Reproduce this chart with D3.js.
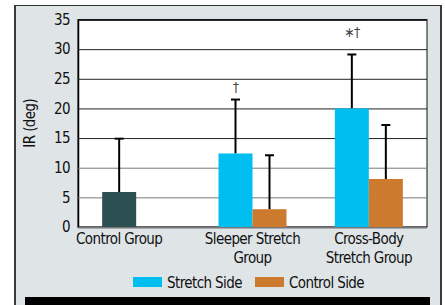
<!DOCTYPE html>
<html>
<head>
<meta charset="utf-8">
<script src="https://cdn.jsdelivr.net/npm/d3@7"></script>
<style>
  body { margin: 0; background: #fff; }
  text { font-family: "Liberation Sans Narrow", "DejaVu Sans Condensed", sans-serif; fill: #111; letter-spacing: -0.6px; }
</style>
</head>
<body>
<div id="chart"></div>
<script>
  const groups = ["Control Group", "Sleeper Stretch Group", "Cross-Body Stretch Group"];
  const groupLabels = [["Control Group"], ["Sleeper Stretch", "Group"], ["Cross-Body", "Stretch Group"]];
  const sides = ["Stretch Side", "Control Side"];
  const controlGroup = [5.9, null, null];
  const controlGroupSD = [9.0, null, null];
  const stretchSide = [null, 12.4, 20.0];
  const stretchSideSD = [null, 9.1, 9.1];
  const controlSide = [null, 3.0, 8.1];
  const controlSideSD = [null, 9.1, 9.1];
  const yTicks = [0, 5, 10, 15, 20, 25, 30, 35];
  const notes = [{ group: 1, side: "Stretch Side", text: "\u2020", at: 22.7 }, { group: 2, side: "Stretch Side", text: "\u2217\u2020", at: 32.0 }];

  const colors = { "Control Group": "#2c4f52", "Stretch Side": "#00bff0", "Control Side": "#cc7a2e" };

  const w = 445, h = 305;
  const pLeft = 78, pRight = 427, pTop = 19.5, pBottom = 227;

  const svg = d3.select("#chart").append("svg").attr("width", w).attr("height", h);

  // grey panel
  svg.append("rect").attr("x", 15).attr("y", 5).attr("width", 426).attr("height", 310).attr("fill", "#dfe4e7");
  svg.append("line").attr("x1", 15).attr("x2", 441).attr("y1", 5.5).attr("y2", 5.5).attr("stroke", "#333");
  svg.append("line").attr("x1", 15).attr("x2", 15).attr("y1", 5).attr("y2", h).attr("stroke", "#3a3a3a").attr("stroke-width", 2);
  svg.append("line").attr("x1", 441).attr("x2", 441).attr("y1", 5).attr("y2", h).attr("stroke", "#3a3a3a").attr("stroke-width", 2);
  svg.append("rect").attr("x", 25).attr("y", 297).attr("width", 405).attr("height", 10).attr("fill", "#000");

  svg.append("rect").attr("x", pLeft).attr("y", pTop).attr("width", pRight - pLeft).attr("height", pBottom - pTop)
    .attr("fill", "#fff").attr("stroke", "#111");

  const yScale = d3.scaleLinear().domain([0, 35]).range([pBottom, pTop]);
  const xScale = d3.scalePoint().domain(groups).range([pLeft, pRight]).padding(0.5);
  const sideScale = d3.scaleBand().domain(sides).range([-34, 34]);
  const bw = sideScale.bandwidth();

  const yAxis = d3.axisLeft(yScale).tickValues(yTicks).tickSize(-(pRight - pLeft)).tickPadding(8);
  const gy = svg.append("g").attr("transform", `translate(${pLeft},0)`).call(yAxis);
  gy.select(".domain").attr("stroke", "#000").attr("stroke-width", 1.5);
  gy.selectAll(".tick line").attr("stroke", (d) => d <= 10 ? "#777" : "#222");
  gy.selectAll(".tick text").attr("font-size", 15).attr("fill", "#111");

  svg.append("text").attr("transform", `translate(35,${(pTop + pBottom) / 2}) rotate(-90)`)
    .attr("text-anchor", "middle").attr("font-size", 15).text("IR (deg)");

  // control group bar sits in the first slot of its group
  const bars = [];
  groups.forEach((g, i) => {
    if (controlGroup[i] != null) bars.push({ g, key: "Control Group", v: controlGroup[i], sd: controlGroupSD[i], x0: sideScale(sides[0]) });
    if (stretchSide[i] != null) bars.push({ g, key: "Stretch Side", v: stretchSide[i], sd: stretchSideSD[i], x0: sideScale("Stretch Side") });
    if (controlSide[i] != null) bars.push({ g, key: "Control Side", v: controlSide[i], sd: controlSideSD[i], x0: sideScale("Control Side") });
  });
  const barMid = (d) => xScale(d.g) + d.x0 + bw / 2;

  // error bars
  const err = svg.append("g").selectAll("g").data(bars).enter().append("g");
  err.append("line")
    .attr("x1", barMid).attr("x2", barMid)
    .attr("y1", (d) => yScale(d.v)).attr("y2", (d) => yScale(d.v + d.sd))
    .attr("stroke", "#000").attr("stroke-width", 2);
  err.append("line")
    .attr("x1", (d) => barMid(d) - 4.5).attr("x2", (d) => barMid(d) + 4.5)
    .attr("y1", (d) => yScale(d.v + d.sd)).attr("y2", (d) => yScale(d.v + d.sd))
    .attr("stroke", "#000").attr("stroke-width", 2);

  svg.append("g").selectAll("rect").data(bars).enter().append("rect")
    .attr("x", (d) => xScale(d.g) + d.x0)
    .attr("y", (d) => yScale(d.v))
    .attr("width", bw)
    .attr("height", (d) => yScale(0) - yScale(d.v))
    .attr("fill", (d) => colors[d.key]);

  svg.append("g").selectAll("text").data(notes).enter().append("text")
    .attr("x", (d) => xScale(groups[d.group]) + sideScale(d.side) + bw / 2)
    .attr("y", (d) => yScale(d.at))
    .attr("text-anchor", "middle").attr("font-size", 14)
    .style("fill", "#444")
    .text((d) => d.text);

  // x labels, centred under the bars of each group
  const labelX = (g) => d3.mean(bars.filter((b) => b.g === g), barMid);
  const xl = svg.append("g").selectAll("text").data(groups).enter().append("text")
    .attr("x", labelX).attr("y", 244)
    .attr("text-anchor", "middle").attr("font-size", 15);
  xl.selectAll("tspan").data((d, i) => groupLabels[i]).enter().append("tspan")
    .attr("x", function () { return d3.select(this.parentNode).attr("x"); })
    .attr("dy", (d, i) => i === 0 ? 0 : 19)
    .text((d) => d);

  // legend
  const legendX = [133, 255];
  const lg = svg.append("g").selectAll("g").data(sides).enter().append("g")
    .attr("transform", (d, i) => `translate(${legendX[i]},277)`);
  lg.append("rect").attr("width", 29).attr("height", 10).attr("fill", (d) => colors[d]);
  lg.append("text").attr("x", 34).attr("y", 10.5).attr("font-size", 15).text((d) => d);
</script>
</body>
</html>
